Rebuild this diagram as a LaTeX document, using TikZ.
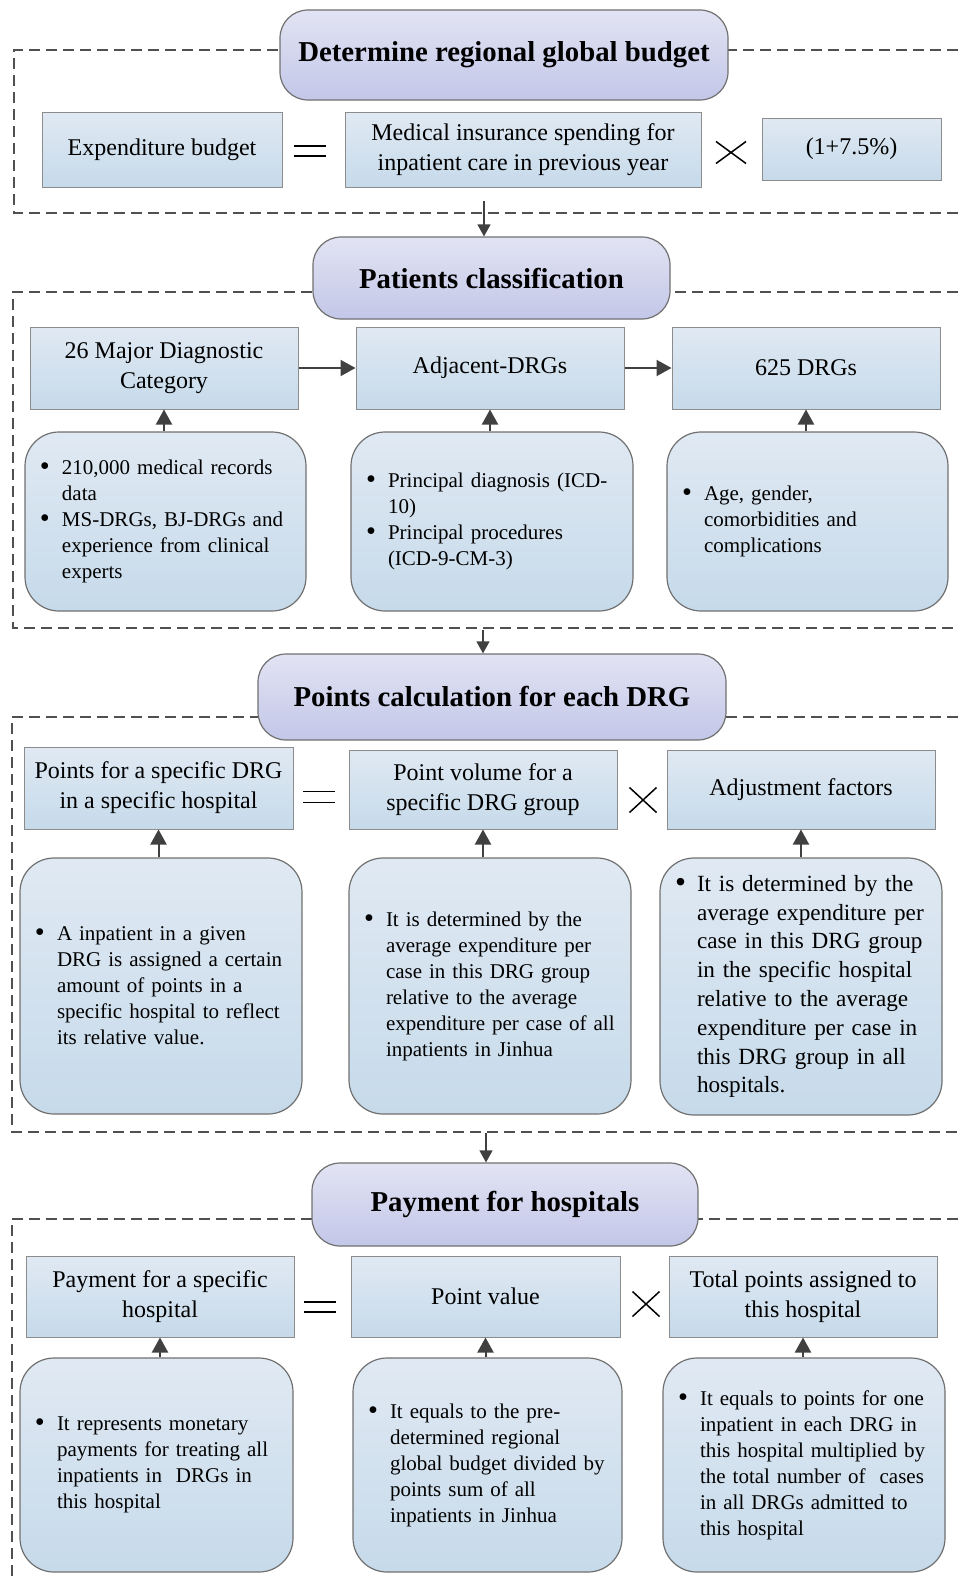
\documentclass[tikz,border=0pt]{standalone}
\usepackage{fontspec}
\setmainfont{Liberation Serif}
\usepackage{xcolor}
\usepackage{tikz}
\usetikzlibrary{arrows.meta}
\usetikzlibrary{shapes,positioning}

\definecolor{boxtop}{HTML}{E0E9F3}
\definecolor{boxbot}{HTML}{C6DAEA}
\definecolor{pilltop}{HTML}{E2E3F3}
\definecolor{pillbot}{HTML}{C3C7E8}
\definecolor{termline}{HTML}{8C8C8C}
\definecolor{noteline}{HTML}{707070}
\definecolor{frameline}{HTML}{505050}
\definecolor{arrowgray}{HTML}{404040}

% bullet lines of the notes, kept unbroken
\newcommand{\itemdot}{\makebox[12pt][l]{\hspace*{1pt}\raisebox{-0.1ex}{\scalebox{1.35}{\textbullet}}}}
\newcommand{\itemgap}{\hspace*{12pt}}
\newcommand{\firstln}[1]{\mbox{\itemdot#1}}
\newcommand{\nextln}[1]{\mbox{\itemgap#1}}

\tikzset{
  head/.style={draw=noteline, line width=0.6pt, top color=pilltop, bottom color=pillbot,
    rounded corners=14pt, inner sep=0pt, font=\fontsize{14.4}{17}\selectfont\bfseries},
  term/.style={draw=termline, line width=0.5pt, top color=boxtop, bottom color=boxbot,
    inner sep=0pt, align=center, font=\fontsize{12}{15}\selectfont},
  note/.style={draw=noteline, line width=0.6pt, top color=boxtop, bottom color=boxbot,
    rounded corners=17pt, inner xsep=6.5pt, inner ysep=0pt, align=left,
    font=\fontsize{10.5}{13}\selectfont},
  frame/.style={draw=frameline, line width=0.6pt, dash pattern=on 5.5pt off 3pt},
  feed/.style={draw=arrowgray, line width=1pt, -{Triangle[length=7.5pt,width=8pt]}},
  down/.style={draw=arrowgray, line width=0.6pt, -{Triangle[length=6pt,width=6.5pt]}},
  sym/.style={draw=black, line width=0.75pt}
}

\begin{document}
\begin{tikzpicture}[x=0.5pt,y=-0.5pt]
\useasboundingbox (0,0) rectangle (958,1579);

% dashed frames
\draw[frame] (958,50) -- (14,50) -- (14,213) -- (958,213);
\draw[frame] (958,292) -- (13,292) -- (13,628) -- (958,628);
\draw[frame] (958,717) -- (12,717) -- (12,1132) -- (958,1132);
\draw[frame] (958,1219) -- (12,1219) -- (12,1579);

% regional budget
\node[head, minimum width=224pt, minimum height=45pt] (budget) at (504,55) {Determine regional global budget};
\node[term, minimum width=120pt, minimum height=37.5pt] (expend) at (162,149.5) {Expenditure budget};
\node[term, minimum width=178pt, minimum height=37.5pt] (spend) at (523,149.5) {Medical insurance spending for\\inpatient care in previous year};
\node[term, minimum width=89.5pt, minimum height=31pt] (rate) at (851.5,149) {(1+7.5\%)};
\draw[sym] (294,146) -- (326,146) (294,156) -- (326,156);
\draw[sym] (716,141.5) -- (746,163.5) (716,163.5) -- (746,141.5);
\coordinate (out1) at (484,201);

% patients classification
\node[head, minimum width=178.5pt, minimum height=41pt] (classify) at (491.5,278) {Patients classification};
\draw[down] (out1) -- (out1 |- classify.north);
\node[term, minimum width=134pt, minimum height=41pt] (mdc) at (164,368) {26 Major Diagnostic\\Category};
\node[term, minimum width=134pt, minimum height=41pt] (adrg) at (490,368) {Adjacent-DRGs};
\node[term, minimum width=134pt, minimum height=41pt] (drg) at (806,368) {625 DRGs};
\draw[feed] (mdc) -- (adrg);
\draw[feed] (adrg) -- (drg);
\node[note, text width=127.5pt, minimum height=89.5pt] (mdcsrc) at (165.5,521.5)
  {\firstln{210,000 medical records}\\ \nextln{data}\\ \firstln{MS-DRGs, BJ-DRGs and}\\ \nextln{experience from clinical}\\ \nextln{experts}};
\node[note, text width=128pt, minimum height=89.5pt] (adrgsrc) at (492,521.5)
  {\firstln{Principal diagnosis (ICD-}\\ \nextln{10)}\\ \firstln{Principal procedures}\\ \nextln{(ICD-9-CM-3)}};
\node[note, text width=127.5pt, minimum height=89.5pt] (drgsrc) at (807.5,521.5)
  {\firstln{Age, gender,}\\ \nextln{comorbidities and}\\ \nextln{complications}};
\draw[feed] (mdc.south |- mdcsrc.north) -- (mdc.south);
\draw[feed] (adrg.south |- adrgsrc.north) -- (adrg.south);
\draw[feed] (drg.south |- drgsrc.north) -- (drg.south);
\coordinate (out2) at (483,630);

% points calculation
\node[head, minimum width=234pt, minimum height=43pt] (points) at (492,697) {Points calculation for each DRG};
\draw[down] (out2) -- (out2 |- points.north);
\node[term, minimum width=134.5pt, minimum height=41pt] (ptsdrg) at (158.5,788) {Points for a specific DRG\\in a specific hospital};
\node[term, minimum width=134pt, minimum height=39.5pt] (ptvol) at (483,789.5) {Point volume for a\\specific DRG group};
\node[term, minimum width=134pt, minimum height=39.5pt] (adjfac) at (801,789.5) {Adjustment factors};
\draw[sym] (303,791.5) -- (335,791.5) (303,802.5) -- (335,802.5);
\draw[sym] (629.5,787.5) -- (656.5,812.5) (629.5,812.5) -- (656.5,787.5);
\node[note, text width=128pt, minimum height=128pt] (ptsnote) at (161,986)
  {\firstln{A inpatient in a given}\\ \nextln{DRG is assigned a certain}\\ \nextln{amount of points in a}\\ \nextln{specific hospital to reflect}\\ \nextln{its relative value.}};
\node[note, text width=128pt, minimum height=128pt] (volnote) at (490,986)
  {\firstln{It is determined by the}\\ \nextln{average expenditure per}\\ \nextln{case in this DRG group}\\ \nextln{relative to the average}\\ \nextln{expenditure per case of all}\\ \nextln{inpatients in Jinhua}};
\node[note, text width=128pt, minimum height=128.5pt, font=\fontsize{11.6}{14.4}\selectfont] (adjnote) at (801,986.5)
  {\firstln{It is determined by the}\\ \nextln{average expenditure per}\\ \nextln{case in this DRG group}\\ \nextln{in the specific hospital}\\ \nextln{relative to the average}\\ \nextln{expenditure per case in}\\ \nextln{this DRG group in all}\\ \nextln{hospitals.}};
\draw[feed] (ptsdrg.south |- ptsnote.north) -- (ptsdrg.south);
\draw[feed] (ptvol.south |- volnote.north) -- (ptvol.south);
\draw[feed] (adjfac.south |- adjnote.north) -- (adjfac.south);
\coordinate (out3) at (486,1133);

% payment
\node[head, minimum width=193pt, minimum height=41.5pt] (payment) at (505,1204.5) {Payment for hospitals};
\draw[down] (out3) -- (out3 |- payment.north);
\node[term, minimum width=134pt, minimum height=40.5pt] (payhosp) at (160,1296.5) {Payment for a specific\\hospital};
\node[term, minimum width=134.5pt, minimum height=40.5pt] (ptval) at (485.5,1296.5) {Point value};
\node[term, minimum width=134pt, minimum height=40.5pt] (totpts) at (803,1296.5) {Total points assigned to\\this hospital};
\draw[sym] (304,1302) -- (336,1302) (304,1312) -- (336,1312);
\draw[sym] (632.5,1291.5) -- (659.5,1316.5) (632.5,1316.5) -- (659.5,1291.5);
\node[note, text width=123.5pt, minimum height=107pt] (paynote) at (156.5,1465)
  {\firstln{It represents monetary}\\ \nextln{payments for treating all}\\ \nextln{inpatients in\ \ DRGs in}\\ \nextln{this hospital}};
\node[note, text width=121.5pt, minimum height=107pt] (valnote) at (487.5,1465)
  {\firstln{It equals to the pre-}\\ \nextln{determined regional}\\ \nextln{global budget divided by}\\ \nextln{points sum of all}\\ \nextln{inpatients in Jinhua}};
\node[note, text width=128pt, minimum height=107pt] (totnote) at (804,1465)
  {\firstln{It equals to points for one}\\ \nextln{inpatient in each DRG in}\\ \nextln{this hospital multiplied by}\\ \nextln{the total number of\ \ cases}\\ \nextln{in all DRGs admitted to}\\ \nextln{this hospital}};
\draw[feed] (payhosp.south |- paynote.north) -- (payhosp.south);
\draw[feed] (ptval.south |- valnote.north) -- (ptval.south);
\draw[feed] (totpts.south |- totnote.north) -- (totpts.south);
\end{tikzpicture}
\end{document}
